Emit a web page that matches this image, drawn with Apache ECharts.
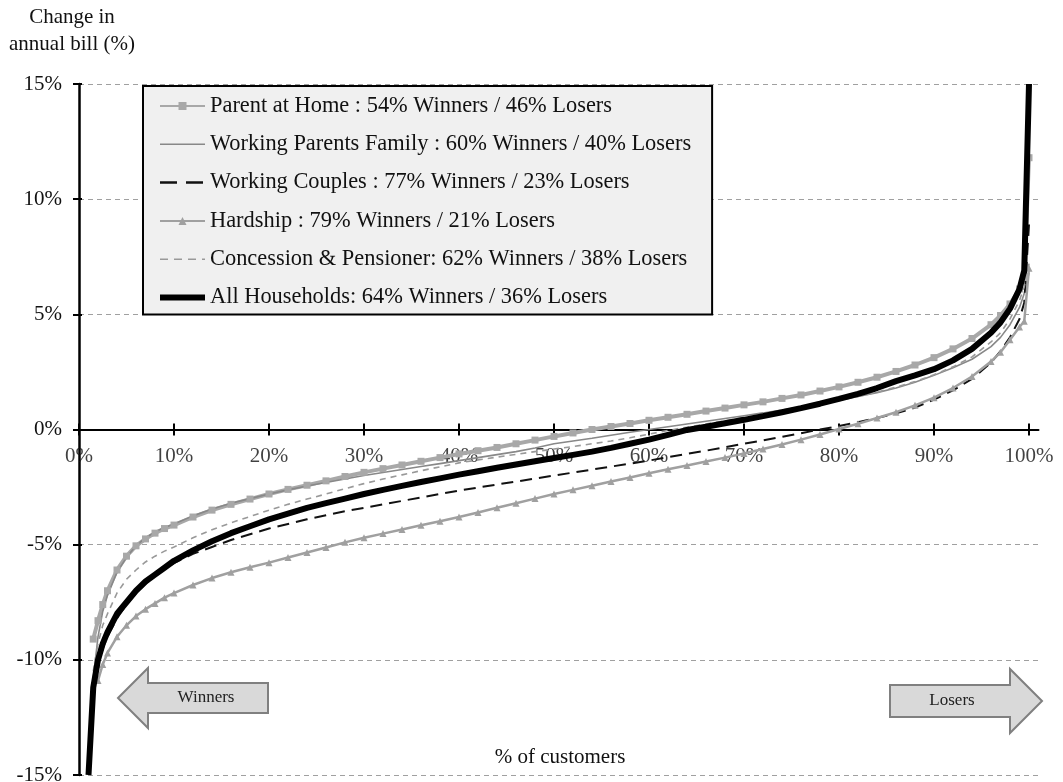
<!DOCTYPE html>
<html><head><meta charset="utf-8">
<script src="https://cdn.jsdelivr.net/npm/echarts@6/dist/echarts.min.js"></script>
<style>html,body{margin:0;padding:0;background:#fff}#c{width:1063px;height:782px}</style>
</head><body><div id="c"></div>
<script>
// % of customers (x positions of the sampled points)
const xs = [1,1.5,2,2.5,3,4,5,6,7,8,9,10,
  12,14,16,18,20,22,24,26,28,30,32,34,36,38,40,42,44,46,48,50,52,54,56,58,60,62,64,66,68,70,72,74,76,78,80,82,84,86,88,90,92,94,96,
  97,98,99,99.5,100];

const parentAtHome = [null,-9.1,-8.3,-7.6,-7.0,-6.1,-5.5,-5.05,-4.75,-4.5,-4.3,-4.15,
  -3.8,-3.5,-3.25,-3.02,-2.8,-2.6,-2.42,-2.23,-2.04,-1.86,-1.7,-1.54,-1.38,-1.22,-1.06,-0.92,-0.78,-0.62,-0.46,-0.3,-0.15,0.0,0.13,0.26,0.4,0.53,0.66,0.8,0.93,1.07,1.2,1.35,1.5,1.67,1.85,2.05,2.27,2.52,2.8,3.12,3.5,3.95,4.55,
  4.95,5.45,6.1,6.6,11.8];

const workingParents = [null,-10.8,-9.0,-7.9,-7.2,-6.2,-5.55,-5.05,-4.7,-4.45,-4.25,-4.1,
  -3.75,-3.45,-3.2,-3.0,-2.8,-2.62,-2.45,-2.3,-2.15,-2.0,-1.87,-1.74,-1.61,-1.48,-1.35,-1.22,-1.09,-0.96,-0.8,-0.62,-0.5,-0.38,-0.25,-0.12,0.0,0.12,0.24,0.36,0.48,0.6,0.72,0.85,0.98,1.12,1.27,1.43,1.6,1.8,2.05,2.35,2.68,3.05,3.6,
  4.0,4.55,5.3,5.9,6.8];

const workingCouples = [null,-11.3,-10.2,-9.5,-9.0,-8.2,-7.6,-7.1,-6.7,-6.35,-6.05,-5.8,
  -5.4,-5.1,-4.8,-4.55,-4.3,-4.1,-3.9,-3.72,-3.55,-3.4,-3.25,-3.1,-2.95,-2.8,-2.65,-2.52,-2.39,-2.26,-2.13,-2.0,-1.87,-1.74,-1.61,-1.48,-1.35,-1.2,-1.06,-0.92,-0.77,-0.62,-0.47,-0.32,-0.16,0.0,0.15,0.32,0.5,0.7,0.95,1.3,1.7,2.2,2.9,
  3.4,4.0,4.8,5.5,8.9];

const hardship = [null,null,-10.9,-10.2,-9.7,-9.0,-8.5,-8.1,-7.8,-7.55,-7.3,-7.1,
  -6.75,-6.45,-6.2,-5.98,-5.78,-5.56,-5.34,-5.12,-4.9,-4.7,-4.52,-4.34,-4.16,-3.98,-3.8,-3.6,-3.4,-3.2,-3.0,-2.8,-2.62,-2.44,-2.26,-2.08,-1.9,-1.73,-1.56,-1.39,-1.22,-1.04,-0.85,-0.65,-0.44,-0.22,0.02,0.25,0.5,0.75,1.05,1.38,1.8,2.3,2.95,
  3.35,3.9,4.45,4.7,7.0];

const concession = [null,-10.5,-9.3,-8.5,-8.0,-7.1,-6.5,-6.1,-5.75,-5.5,-5.28,-5.1,
  -4.7,-4.35,-4.05,-3.78,-3.5,-3.25,-3.02,-2.8,-2.57,-2.35,-2.15,-1.97,-1.79,-1.62,-1.45,-1.32,-1.2,-1.08,-0.96,-0.85,-0.74,-0.62,-0.5,-0.36,-0.2,-0.04,0.1,0.24,0.38,0.52,0.66,0.8,0.95,1.1,1.26,1.43,1.62,1.84,2.08,2.38,2.72,3.15,3.8,
  4.2,4.8,5.6,6.2,7.2];

const allHouseholds = [-15,-11.2,-10.0,-9.3,-8.8,-8.0,-7.5,-7.0,-6.6,-6.3,-6.0,-5.7,
  -5.25,-4.85,-4.5,-4.2,-3.9,-3.65,-3.4,-3.2,-3.0,-2.8,-2.62,-2.45,-2.28,-2.12,-1.96,-1.81,-1.66,-1.52,-1.38,-1.24,-1.1,-0.96,-0.8,-0.62,-0.44,-0.23,-0.02,0.12,0.27,0.42,0.58,0.75,0.93,1.12,1.33,1.55,1.8,2.1,2.35,2.62,3.0,3.5,4.2,
  4.65,5.25,6.1,6.9,15];

const seriesNames = [
  'Parent at Home : 54% Winners / 46% Losers',
  'Working Parents Family : 60% Winners / 40% Losers',
  'Working Couples : 77% Winners / 23% Losers',
  'Hardship : 79% Winners / 21% Losers',
  'Concession & Pensioner: 62% Winners / 38% Losers',
  'All Households: 64% Winners / 36% Losers'
];
const xTickValues = [0,10,20,30,40,50,60,70,80,90,100];
const yAxisTitle = ['Change in', 'annual bill (%)'];
const xAxisTitle = '% of customers';
const arrowLabels = ['Winners', 'Losers'];

const FONT = "'Liberation Serif','Times New Roman',serif";
function pairs(ys){ const out=[]; xs.forEach((x,i)=>{ if(ys[i]!=null) out.push([x,ys[i]]); }); return out; }

const chart = echarts.init(document.getElementById('c'), null, {renderer:'canvas'});
const common = {type:'line', animation:false, z:2};
const hiddenSym = {opacity:0};
const option = {
  animation:false,
  backgroundColor:'#fff',
  grid:{left:79, right:24.5, top:84, bottom:7, containLabel:false, outerBoundsMode:'none'},
  xAxis:[{
    type:'value', min:0, max:101, interval:10,
    axisLine:{onZero:true, lineStyle:{color:'#000', width:2}},
    axisTick:{customValues:xTickValues, length:6, lineStyle:{color:'#000', width:2}},
    axisLabel:{show:false},
    splitLine:{show:false}
  },{
    type:'value', position:'top', min:0, max:101, interval:10,
    axisLine:{show:false, onZero:true},
    axisTick:{customValues:xTickValues, length:6, lineStyle:{color:'#000', width:2}},
    axisLabel:{show:false}, splitLine:{show:false}
  }],
  yAxis:[{
    type:'value', min:-15, max:15, interval:5, position:'left',
    axisLine:{show:true, onZero:false, lineStyle:{color:'#000', width:2.5}},
    axisTick:{show:true, length:6, lineStyle:{color:'#000', width:2}},
    axisLabel:{formatter:v=>v+'%', fontFamily:FONT, fontSize:21, color:'#111', margin:17},
    splitLine:{show:true, lineStyle:{color:'#a0a0a0', type:[5,4], width:1}}
  },{
    type:'value', min:-15, max:15, interval:5, position:'right',
    axisLine:{show:false, onZero:true},
    axisTick:{show:true, length:3, lineStyle:{color:'#000', width:2}},
    axisLabel:{show:false}, splitLine:{show:false}
  }],
  legend:{
    orient:'vertical', left:143, top:86,
    padding:[9,21,6,14], itemGap:16.3, itemWidth:45, itemHeight:10,
    backgroundColor:'#f0f0f0', borderColor:'#000', borderWidth:2,
    textStyle:{fontFamily:FONT, fontSize:22.4, color:'#111'},
    data:[
      {name:seriesNames[0], lineStyle:{width:2}},
      {name:seriesNames[1], itemStyle:hiddenSym, lineStyle:{width:1.6}},
      {name:seriesNames[2], itemStyle:hiddenSym, lineStyle:{width:2.5, type:[17,9]}},
      {name:seriesNames[3], lineStyle:{width:2}},
      {name:seriesNames[4], itemStyle:hiddenSym, lineStyle:{width:1.6, type:[8,6]}},
      {name:seriesNames[5], itemStyle:hiddenSym, lineStyle:{width:6}}
    ]
  },
  series:[
    {type:'scatter', name:'xTickLabels', silent:true, animation:false, z:1,
      data:xTickValues.map(v=>[v,0]), symbol:'circle', symbolSize:1,
      itemStyle:{color:'rgba(0,0,0,0)'},
      label:{show:true, position:'bottom', distance:16, formatter:p=>p.value[0]+'%',
        fontFamily:FONT, fontSize:21, color:'#111'}},
    Object.assign({}, common, {name:seriesNames[0], data:pairs(parentAtHome), color:'#a8a8a8',
      lineStyle:{width:4, color:'#a8a8a8'}, symbol:'rect', symbolSize:7, showSymbol:true, showAllSymbol:true,
      itemStyle:{color:'#a8a8a8'}}),
    Object.assign({}, common, {name:seriesNames[1], data:pairs(workingParents), color:'#888',
      lineStyle:{width:1.6, color:'#888'}, symbol:'none'}),
    Object.assign({}, common, {name:seriesNames[2], data:pairs(workingCouples), color:'#111',
      lineStyle:{width:2, color:'#111', type:[12,7]}, symbol:'none'}),
    Object.assign({}, common, {name:seriesNames[3], data:pairs(hardship), color:'#a0a0a0',
      lineStyle:{width:2.5, color:'#a0a0a0'}, symbol:'triangle', symbolSize:7, showSymbol:true, showAllSymbol:true,
      itemStyle:{color:'#a0a0a0'}}),
    Object.assign({}, common, {name:seriesNames[4], data:pairs(concession), color:'#999',
      lineStyle:{width:1.6, color:'#999', type:[6,5]}, symbol:'none'}),
    Object.assign({}, common, {name:seriesNames[5], data:pairs(allHouseholds), color:'#000',
      lineStyle:{width:6, color:'#000'}, symbol:'none', z:3})
  ],
  graphic:[
    {type:'text', style:{text:yAxisTitle[0], x:72, y:17, fontFamily:FONT, fontSize:21, fill:'#111', align:'center', verticalAlign:'middle'}},
    {type:'text', style:{text:yAxisTitle[1], x:72, y:44, fontFamily:FONT, fontSize:21, fill:'#111', align:'center', verticalAlign:'middle'}},
    {type:'text', style:{text:xAxisTitle, x:560, y:757, fontFamily:FONT, fontSize:21, fill:'#111', align:'center', verticalAlign:'middle'}},
    {type:'polygon', shape:{points:[[118,698],[148,668],[148,683],[268,683],[268,713],[148,713],[148,728]]},
      style:{fill:'#d9d9d9', stroke:'#808080', lineWidth:2}, z:10},
    {type:'text', style:{text:arrowLabels[0], x:206, y:698, fontFamily:FONT, fontSize:17, fill:'#222', align:'center', verticalAlign:'middle'}, z:11},
    {type:'polygon', shape:{points:[[1042,701],[1010,669],[1010,685],[890,685],[890,717],[1010,717],[1010,733]]},
      style:{fill:'#d9d9d9', stroke:'#808080', lineWidth:2}, z:10},
    {type:'text', style:{text:arrowLabels[1], x:952, y:701, fontFamily:FONT, fontSize:17, fill:'#222', align:'center', verticalAlign:'middle'}, z:11}
  ]
};
chart.setOption(option);
</script></body></html>
